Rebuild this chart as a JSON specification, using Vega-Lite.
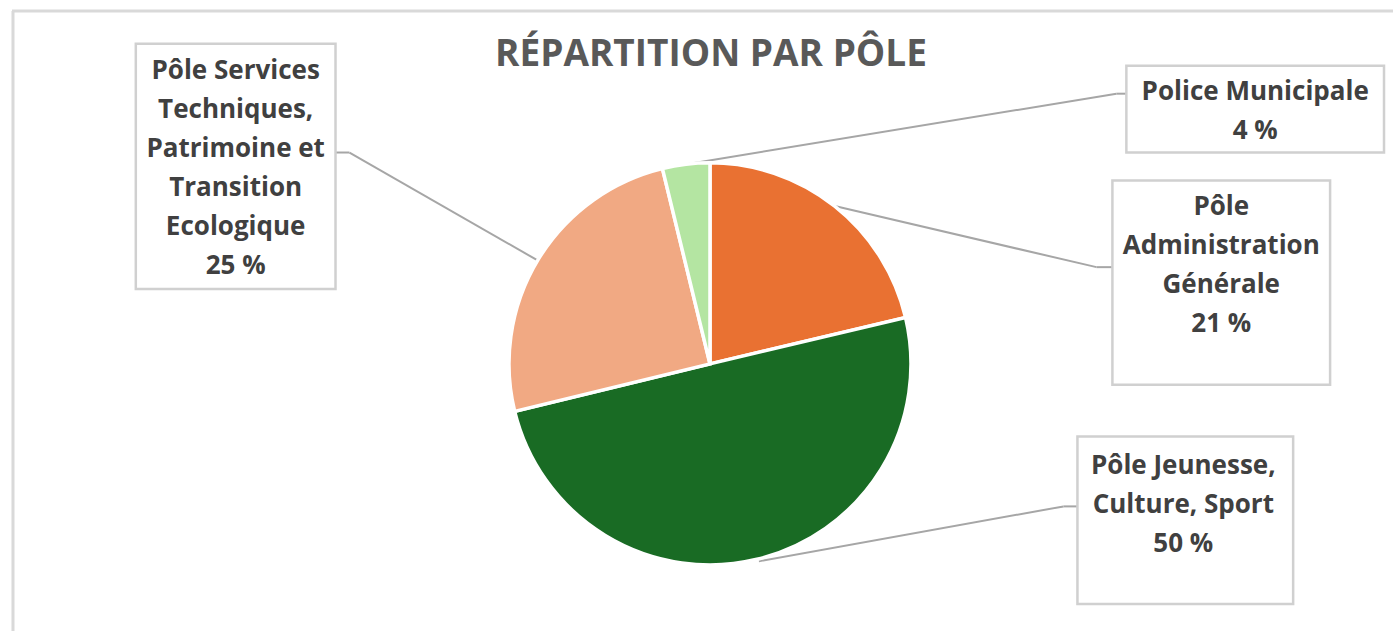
{
  "$schema": "https://vega.github.io/schema/vega-lite/v6.json",
  "width": 1395,
  "height": 633,
  "autosize": {"type": "fit", "contains": "padding"},
  "padding": 0,
  "background": "white",
  "view": {"stroke": null},
  "config": {"text": {"font": "Open Sans", "fontWeight": "bold"}},
  "data": {
    "values": [
      {"pole": "Pôle\nAdministration\nGénérale", "part": 21.3},
      {"pole": "Pôle Jeunesse,\nCulture, Sport", "part": 49.9},
      {"pole": "Pôle Services\nTechniques,\nPatrimoine et\nTransition\nEcologique", "part": 25.0},
      {"pole": "Police Municipale", "part": 3.8}
    ]
  },
  "layer": [
    {
      "data": {"values": [{}]},
      "mark": {"type": "rule", "color": "#d9d9d9", "strokeWidth": 3},
      "encoding": {
        "x": {"datum": -3.4776, "type": "quantitative", "scale": {"domain": [-3.5373, 3.403], "nice": false, "zero": false}, "axis": null},
        "x2": {"datum": 3.403},
        "y": {"datum": 1.7612, "type": "quantitative", "scale": {"domain": [-1.3333, 1.8159], "nice": false, "zero": false}, "axis": null}
      }
    },
    {
      "data": {"values": [{}]},
      "mark": {"type": "rule", "color": "#d9d9d9", "strokeWidth": 3},
      "encoding": {
        "x": {"datum": -3.4726, "type": "quantitative", "axis": null},
        "y": {"datum": 1.7612, "type": "quantitative", "axis": null},
        "y2": {"datum": -1.3333}
      }
    },
    {
      "data": {"values": [{}]},
      "mark": {"type": "rule", "color": "#a6a6a6", "strokeWidth": 2},
      "encoding": {"x": {"datum": -1.8657, "type": "quantitative", "axis": null}, "x2": {"datum": -1.796}, "y": {"datum": 1.0547, "type": "quantitative", "axis": null}, "y2": {"datum": 1.0547}}
    },
    {
      "data": {"values": [{}]},
      "mark": {"type": "rule", "color": "#a6a6a6", "strokeWidth": 2},
      "encoding": {"x": {"datum": -1.796, "type": "quantitative", "axis": null}, "x2": {"datum": -0.8607}, "y": {"datum": 1.0547, "type": "quantitative", "axis": null}, "y2": {"datum": 0.5174}}
    },
    {
      "data": {"values": [{}]},
      "mark": {"type": "rule", "color": "#a6a6a6", "strokeWidth": 2},
      "encoding": {"x": {"datum": 2.0746, "type": "quantitative", "axis": null}, "x2": {"datum": 2.0249}, "y": {"datum": 1.3483, "type": "quantitative", "axis": null}, "y2": {"datum": 1.3483}}
    },
    {
      "data": {"values": [{}]},
      "mark": {"type": "rule", "color": "#a6a6a6", "strokeWidth": 2},
      "encoding": {"x": {"datum": 2.0249, "type": "quantitative", "axis": null}, "x2": {"datum": -0.1244}, "y": {"datum": 1.3483, "type": "quantitative", "axis": null}, "y2": {"datum": 0.995}}
    },
    {
      "data": {"values": [{}]},
      "mark": {"type": "rule", "color": "#a6a6a6", "strokeWidth": 2},
      "encoding": {"x": {"datum": 2.005, "type": "quantitative", "axis": null}, "x2": {"datum": 1.9254}, "y": {"datum": 0.4826, "type": "quantitative", "axis": null}, "y2": {"datum": 0.4826}}
    },
    {
      "data": {"values": [{}]},
      "mark": {"type": "rule", "color": "#a6a6a6", "strokeWidth": 2},
      "encoding": {"x": {"datum": 1.9254, "type": "quantitative", "axis": null}, "x2": {"datum": 0.6269}, "y": {"datum": 0.4826, "type": "quantitative", "axis": null}, "y2": {"datum": 0.7861}}
    },
    {
      "data": {"values": [{}]},
      "mark": {"type": "rule", "color": "#a6a6a6", "strokeWidth": 2},
      "encoding": {"x": {"datum": 1.8308, "type": "quantitative", "axis": null}, "x2": {"datum": 1.7612}, "y": {"datum": -0.7114, "type": "quantitative", "axis": null}, "y2": {"datum": -0.7114}}
    },
    {
      "data": {"values": [{}]},
      "mark": {"type": "rule", "color": "#a6a6a6", "strokeWidth": 2},
      "encoding": {"x": {"datum": 1.7612, "type": "quantitative", "axis": null}, "x2": {"datum": 0.2438}, "y": {"datum": -0.7114, "type": "quantitative", "axis": null}, "y2": {"datum": -0.9851}}
    },
    {
      "transform": [{"window": [{"op": "row_number", "as": "ordre"}]}],
      "mark": {"type": "arc", "outerRadius": 201, "stroke": "white", "strokeWidth": 3.5},
      "encoding": {
        "x": {"datum": 0, "type": "quantitative", "axis": null},
        "y": {"datum": 0, "type": "quantitative", "axis": null},
        "theta": {"field": "part", "type": "quantitative", "stack": true},
        "order": {"field": "ordre", "type": "quantitative"},
        "color": {"field": "pole", "type": "nominal", "sort": null, "legend": null,
          "scale": {"range": ["#E97132", "#196B24", "#F1A983", "#B4E5A2"]}}
      }
    },
    {
      "data": {"values": [{}]},
      "mark": {"type": "rect", "fill": "white", "stroke": "#d0d0d0", "strokeWidth": 2.5},
      "encoding": {"x": {"datum": -2.8607, "type": "quantitative", "axis": null}, "x2": {"datum": -1.8657}, "y": {"datum": 1.597, "type": "quantitative", "axis": null}, "y2": {"datum": 0.3731}}
    },
    {
      "data": {"values": [{}]},
      "mark": {"type": "rect", "fill": "white", "stroke": "#d0d0d0", "strokeWidth": 2.5},
      "encoding": {"x": {"datum": 2.0746, "type": "quantitative", "axis": null}, "x2": {"datum": 3.3582}, "y": {"datum": 1.4876, "type": "quantitative", "axis": null}, "y2": {"datum": 1.0547}}
    },
    {
      "data": {"values": [{}]},
      "mark": {"type": "rect", "fill": "white", "stroke": "#d0d0d0", "strokeWidth": 2.5},
      "encoding": {"x": {"datum": 2.005, "type": "quantitative", "axis": null}, "x2": {"datum": 3.0896}, "y": {"datum": 0.9154, "type": "quantitative", "axis": null}, "y2": {"datum": -0.1045}}
    },
    {
      "data": {"values": [{}]},
      "mark": {"type": "rect", "fill": "white", "stroke": "#d0d0d0", "strokeWidth": 2.5},
      "encoding": {"x": {"datum": 1.8308, "type": "quantitative", "axis": null}, "x2": {"datum": 2.9055}, "y": {"datum": -0.3632, "type": "quantitative", "axis": null}, "y2": {"datum": -1.199}}
    },
    {
      "transform": [
        {"filter": "indexof(datum.pole, 'Services') >= 0"},
        {"calculate": "datum.pole + '\\n' + format(datum.part, '.0f') + ' %'", "as": "etiquette"}
      ],
      "mark": {"type": "text", "align": "center", "baseline": "alphabetic", "lineBreak": "\n", "lineHeight": 39, "fontSize": 26, "color": "#404040"},
      "encoding": {"x": {"datum": -2.3632, "type": "quantitative", "axis": null}, "y": {"datum": 1.4229, "type": "quantitative", "axis": null}, "text": {"field": "etiquette"}}
    },
    {
      "transform": [
        {"filter": "indexof(datum.pole, 'Police') >= 0"},
        {"calculate": "datum.pole + '\\n' + format(datum.part, '.0f') + ' %'", "as": "etiquette"}
      ],
      "mark": {"type": "text", "align": "center", "baseline": "alphabetic", "lineBreak": "\n", "lineHeight": 39, "fontSize": 26, "color": "#404040"},
      "encoding": {"x": {"datum": 2.7164, "type": "quantitative", "axis": null}, "y": {"datum": 1.3184, "type": "quantitative", "axis": null}, "text": {"field": "etiquette"}}
    },
    {
      "transform": [
        {"filter": "indexof(datum.pole, 'Administration') >= 0"},
        {"calculate": "datum.pole + '\\n' + format(datum.part, '.0f') + ' %'", "as": "etiquette"}
      ],
      "mark": {"type": "text", "align": "center", "baseline": "alphabetic", "lineBreak": "\n", "lineHeight": 39, "fontSize": 26, "color": "#404040"},
      "encoding": {"x": {"datum": 2.5473, "type": "quantitative", "axis": null}, "y": {"datum": 0.7413, "type": "quantitative", "axis": null}, "text": {"field": "etiquette"}}
    },
    {
      "transform": [
        {"filter": "indexof(datum.pole, 'Jeunesse') >= 0"},
        {"calculate": "datum.pole + '\\n' + format(datum.part, '.0f') + ' %'", "as": "etiquette"}
      ],
      "mark": {"type": "text", "align": "center", "baseline": "alphabetic", "lineBreak": "\n", "lineHeight": 39, "fontSize": 26, "color": "#404040"},
      "encoding": {"x": {"datum": 2.3582, "type": "quantitative", "axis": null}, "y": {"datum": -0.5473, "type": "quantitative", "axis": null}, "text": {"field": "etiquette"}}
    },
    {
      "data": {"values": [{}]},
      "mark": {"type": "text", "align": "center", "baseline": "alphabetic", "fontSize": 37, "color": "#595959"},
      "encoding": {"x": {"datum": 0.005, "type": "quantitative", "axis": null}, "y": {"datum": 1.4876, "type": "quantitative", "axis": null}, "text": {"value": "RÉPARTITION PAR PÔLE"}}
    }
  ]
}
